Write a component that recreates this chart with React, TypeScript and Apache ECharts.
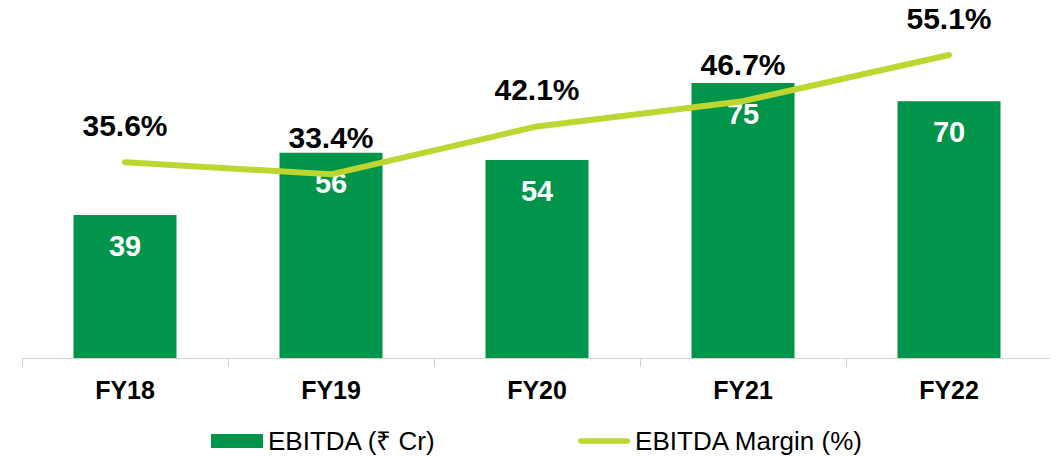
import React, { useEffect, useRef } from "react";
import * as echarts from "echarts";

const categories = ["FY18", "FY19", "FY20", "FY21", "FY22"];
const ebitda = [39, 56, 54, 75, 70];
const margin = [35.6, 33.4, 42.1, 46.7, 55.1];
const barName = "EBITDA (₹ Cr)";
const lineName = "EBITDA Margin (%)";

export default function App() {
  const ref = useRef<HTMLDivElement>(null);
  useEffect(() => {
    if (!ref.current) return;
    const chart = echarts.init(ref.current, undefined, { renderer: "svg" });
    const font = "'Liberation Sans', Arial, sans-serif";
    chart.setOption({
      animation: false,
      textStyle: { fontFamily: font },
      grid: { left: 22, right: 6, top: 28, bottom: 98 },
      legend: {
        left: 206,
        top: 423,
        itemGap: 142,
        itemWidth: 52,
        itemHeight: 14,
        textStyle: { fontSize: 26, color: "#000", fontFamily: font },
        data: [
          { name: barName, icon: "rect" },
          {
            name: lineName,
            icon: "path://M3,0 L54,0 A3,3 0 0 1 54,6 L3,6 A3,3 0 0 1 3,0 Z",
            itemStyle: { color: "#bed630" },
          },
        ],
      },
      xAxis: {
        type: "category",
        data: categories,
        axisLine: { lineStyle: { color: "#d0d0d0", width: 1 } },
        axisTick: { show: true, length: 9, lineStyle: { color: "#d0d0d0" } },
        axisLabel: { fontSize: 25, fontWeight: "bold", color: "#000", margin: 19, fontFamily: font },
      },
      yAxis: [
        { type: "value", min: 0, max: 90, show: false, splitLine: { show: false } },
        { type: "value", min: 0, max: 60, show: false, splitLine: { show: false } },
      ],
      series: [
        {
          name: barName,
          type: "bar",
          data: ebitda,
          barWidth: "50%",
          itemStyle: { color: "#00954a" },
          label: {
            show: true,
            position: "insideTop",
            distance: 16,
            color: "#fff",
            fontSize: 29,
            fontWeight: "bold",
            fontFamily: font,
          },
        },
        {
          name: lineName,
          type: "line",
          yAxisIndex: 1,
          data: margin,
          symbol: "circle",
          symbolSize: 1,
          showSymbol: true,
          lineStyle: { color: "#bed630", width: 6, cap: "round", join: "round" },
          itemStyle: { color: "#bed630" },
          label: {
            show: true,
            position: "top",
            distance: 21,
            color: "#000",
            fontSize: 30,
            fontWeight: "bold",
            fontFamily: font,
            formatter: (p: any) => p.value.toFixed(1) + "%",
          },
        },
      ],
    });
    return () => chart.dispose();
  }, []);
  return <div ref={ref} style={{ width: 1058, height: 456, marginLeft: -8, marginTop: -8 }} />;
}
